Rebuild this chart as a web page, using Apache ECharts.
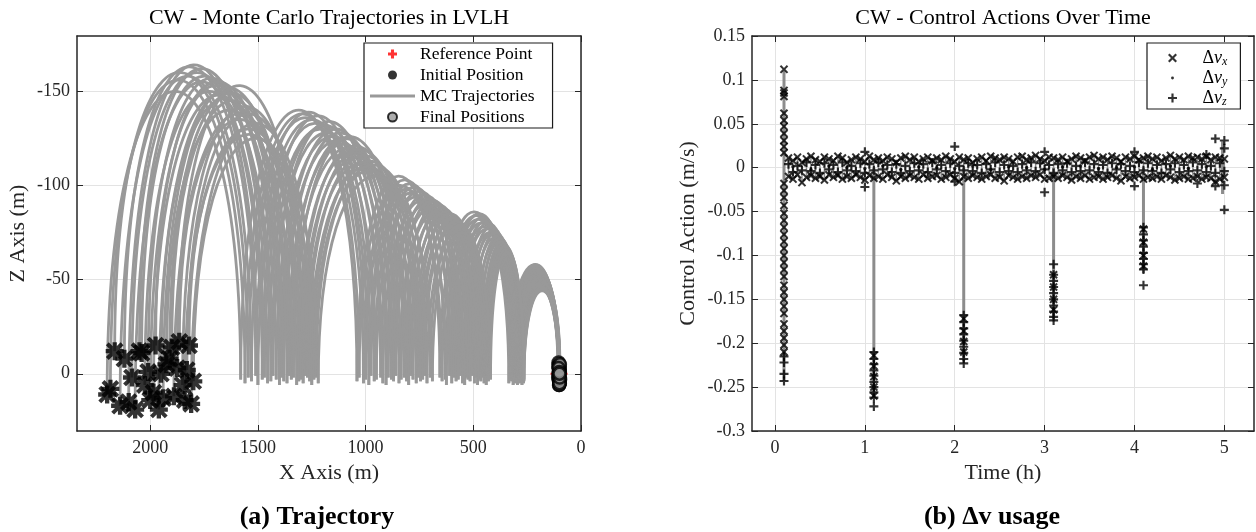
<!DOCTYPE html>
<html><head><meta charset="utf-8">
<script src="https://cdn.jsdelivr.net/npm/echarts@6/dist/echarts.min.js"></script>
<style>html,body{margin:0;padding:0;background:#fff}#c{width:1256px;height:532px}</style>
</head><body><div id="c"></div>
<script>
// ---------- Left panel: trajectories ----------
const startX = [2200,2185,2165,2140,2120,2100,2085,2070,2050,2040,2025,2010,2000,1985,1975,1960,1950,1940,1925,1910,1900,1890,1875,1865,1850,1840,1830,1820,1810,1800];
const startZ = [11,8,-12,17,-8,15,2,19,-12,-11,6,-1,14,10,-15,19,0,13,-5,-8,-14,12,-3,-17,6,14,-2,-15,16,4];
const land1  = [1580,1560,1545,1530,1510,1500,1480,1470,1455,1440,1430,1415,1400,1390,1380,1365,1355,1345,1335,1320,1310,1300,1290,1280,1270,1260,1250,1240,1230,1220];
const land1Z = [3,5,2,4,1,6,3,2,5,4,1,3,6,2,4,5,1,3,2,6,4,3,5,1,2,4,6,3,2,5];
const land2  = [1040,1030,1010,1000,985,975,960,950,930,920,905,895,880,870,860,845,835,820,810,800,790,780,765,755,745,735,725,715,700,690];
const land2Z = [4,2,5,3,6,1,4,3,2,5,6,2,3,4,1,5,3,2,4,6,1,3,5,2,4,3,1,5,2,4];
const land3  = [655,645,630,625,610,600,590,580,570,560,550,540,530,525,515,505,495,490,480,475,465,460,455,450,445,440,435,430,425,420];
const land3Z = [2,4,3,6,1,5,2,4,3,1,5,6,2,3,4,1,5,2,6,3,4,2,1,5,3,6,2,4,1,3];
const land4  = [335,330,325,322,318,315,312,308,305,302,300,297,295,292,290,287,285,282,280,278,276,274,272,270,269,268,267,266,265,265];
const land4Z = [5,3,1,4,2,6,3,5,2,4,1,3,6,2,5,3,4,1,2,5,3,6,2,4,1,3,5,2,4,3];
const finalX = [104,100,106,98,103,101,99,105,102,100,97,104,101,99,103,100,98,102,105,100,101,99,103,98,102,100,104,99,101,100];
const finalZ = [-5,-3,2,5,-1,4,-4,0,6,-2,3,-6,1,5,-3,2,-1,4,-4,0,6,-2,3,-5,1,5,-3,2,-1,0];
const apex1 = [-150,-156,-160,-158,-163,-164,-160,-155,-162,-158,-150,-157,-153,-148,-155,-150,-146,-152,-140,-149,-145,-138,-153,-135,-142,-130,-138,-127,-133,-125];
const apex2 = [-140,-138,-136,-139,-135,-133,-137,-130,-132,-128,-134,-126,-130,-124,-128,-122,-125,-120,-126,-118,-121,-115,-119,-112,-116,-110,-113,-108,-111,-105];
const apex3 = [-105,-100,-103,-98,-101,-96,-99,-94,-97,-92,-95,-90,-93,-88,-92,-86,-90,-85,-88,-83,-86,-82,-85,-80,-83,-78,-81,-76,-79,-75];
const apex4 = [-86,-84,-82,-85,-80,-83,-78,-81,-77,-80,-75,-78,-74,-76,-72,-75,-71,-73,-70,-72,-68,-70,-67,-69,-66,-68,-65,-66,-64,-65];
const apex5 = [-58,-57,-56,-58,-55,-57,-54,-56,-53,-55,-52,-54,-51,-53,-50,-52,-49,-51,-48,-50,-47,-49,-46,-48,-45,-47,-45,-46,-44,-45];
const refX = [102], refZ = [0];
const xTicksL = [0,500,1000,1500,2000];
const zTicksL = [-150,-100,-50,0];

// ---------- Right panel: control actions ----------
const bandT = [0.15,0.2,0.25,0.3,0.35,0.4,0.45,0.5,0.55,0.6,0.65,0.7,0.75,0.8,0.85,0.9,0.95,1,1.05,1.1,1.15,1.2,1.25,1.3,1.35,1.4,1.45,1.5,1.55,1.6,1.65,1.7,1.75,1.8,1.85,1.9,1.95,2,2.05,2.1,2.15,2.2,2.25,2.3,2.35,2.4,2.45,2.5,2.55,2.6,2.65,2.7,2.75,2.8,2.85,2.9,2.95,3,3.05,3.1,3.15,3.2,3.25,3.3,3.35,3.4,3.45,3.5,3.55,3.6,3.65,3.7,3.75,3.8,3.85,3.9,3.95,4,4.05,4.1,4.15,4.2,4.25,4.3,4.35,4.4,4.45,4.5,4.55,4.6,4.65,4.7,4.75,4.8,4.85,4.9,4.95,5];
const xHi = [0.011,0.008,0.012,0.006,0.010,0.013,0.009,0.007,0.012,0.010,
0.008,0.013,0.011,0.006,0.009,0.012,0.010,0.007,0.013,0.009,
0.011,0.008,0.012,0.010,0.006,0.011,0.013,0.009,0.012,0.007,
0.010,0.012,0.008,0.011,0.009,0.013,0.010,0.007,0.012,0.009,
0.011,0.006,0.010,0.012,0.008,0.013,0.011,0.009,0.012,0.010,
0.007,0.012,0.013,0.009,0.011,0.014,0.010,0.008,0.012,0.011,
0.009,0.012,0.007,0.010,0.013,0.011,0.008,0.012,0.014,0.010,
0.012,0.009,0.013,0.011,0.007,0.012,0.010,0.013,0.009,0.011,
0.013,0.010,0.012,0.008,0.011,0.014,0.010,0.012,0.009,0.013,
0.011,0.012,0.010,0.013,0.009,0.012,0.011,0.010];
const xLo = [-0.010,-0.013,-0.008,-0.017,-0.011,-0.009,-0.012,-0.010,-0.014,-0.008,
-0.011,-0.009,-0.013,-0.010,-0.012,-0.008,-0.011,-0.014,-0.009,-0.012,
-0.010,-0.013,-0.008,-0.011,-0.015,-0.010,-0.012,-0.009,-0.011,-0.013,
-0.008,-0.012,-0.010,-0.009,-0.013,-0.011,-0.008,-0.012,-0.016,-0.010,
-0.012,-0.009,-0.011,-0.013,-0.010,-0.008,-0.012,-0.011,-0.015,-0.009,
-0.011,-0.013,-0.010,-0.012,-0.009,-0.011,-0.008,-0.013,-0.012,-0.010,
-0.012,-0.009,-0.011,-0.014,-0.010,-0.012,-0.009,-0.013,-0.011,-0.010,
-0.013,-0.011,-0.009,-0.012,-0.015,-0.010,-0.012,-0.011,-0.009,-0.013,
-0.011,-0.012,-0.010,-0.013,-0.009,-0.011,-0.014,-0.012,-0.010,-0.013,
-0.012,-0.010,-0.013,-0.011,-0.012,-0.016,-0.013,-0.011];
const zMid = [0.004,-0.005,0.002,-0.003,0.006,-0.004,0.003,-0.006,0.005,-0.002,
0.003,-0.005,0.006,-0.003,0.002,-0.004,0.005,-0.006,0.004,-0.003,
0.006,-0.002,0.003,-0.005,0.004,-0.006,0.002,-0.004,0.005,-0.003,
0.004,-0.005,0.006,-0.002,0.003,-0.004,0.005,-0.006,0.002,-0.003,
0.005,-0.004,0.003,-0.006,0.004,-0.002,0.006,-0.005,0.003,-0.004,
0.002,-0.005,0.004,-0.003,0.006,-0.004,0.005,-0.002,0.003,-0.006,
0.004,-0.003,0.005,-0.005,0.002,-0.004,0.006,-0.003,0.004,-0.005,
0.003,-0.006,0.005,-0.002,0.004,-0.004,0.002,-0.005,0.006,-0.003,
0.005,-0.004,0.003,-0.006,0.004,-0.002,0.005,-0.005,0.003,-0.004,
0.006,-0.003,0.004,-0.005,0.002,-0.006,0.005,-0.004];
const zOutT = [1.0,1.0,2.0,2.0,3.0,3.0,4.0,4.0,4.7,4.8,4.9,5.0,5.0,4.9,5.0,5.0];
const zOutV = [0.018,-0.022,0.024,-0.016,0.018,-0.028,0.018,-0.021,-0.018,0.015,0.033,0.031,-0.048,-0.021,0.022,-0.02];
const yTimes = [0.2,0.4,0.6,0.8,1.0,1.2,1.4,1.6,1.8,2.0,2.2,2.4,2.6,2.8,3.0,3.2,3.4,3.6,3.8,4.0,4.2,4.4,4.6,4.8];
const yVals = [0.001,-0.002,0.002,0,-0.001,0.002,-0.002,0.001,0,-0.001,0.002,-0.002,0.001,0,-0.002,0.001,0.002,-0.001,0,0.001,-0.002,0.002,-0.001,0.001];
const spikeT = [0.1,1.1,2.1,3.1,4.1];
const spikeXVals = [
  [0.112,0.088,0.085,0.081,0.062,0.054,0.047,0.039,0.031,0.024,0.017,-0.018,-0.026,-0.034,-0.043,-0.052,-0.06,-0.068,-0.076,-0.084,-0.092,-0.1,-0.108,-0.116,-0.124,-0.134,-0.142,-0.15,-0.158,-0.166,-0.178,-0.186,-0.194,-0.202,-0.21],
  [-0.214,-0.226,-0.238,-0.25,-0.26],
  [-0.172,-0.186,-0.198,-0.21],
  [-0.122,-0.136,-0.15,-0.162],
  [-0.07,-0.085,-0.1,-0.112]
];
const spikeZVals = [
  [-0.215,-0.222,-0.235,-0.243],
  [-0.21,-0.218,-0.224,-0.231,-0.237,-0.244,-0.25,-0.256,-0.262,-0.272],
  [-0.168,-0.176,-0.183,-0.19,-0.197,-0.204,-0.211,-0.218,-0.223],
  [-0.11,-0.122,-0.129,-0.136,-0.143,-0.15,-0.157,-0.164,-0.17,-0.174],
  [-0.068,-0.076,-0.083,-0.09,-0.097,-0.104,-0.11,-0.116,-0.134]
];
const stemT = [0.1,1.1,2.1,3.1,4.1,4.98];
const stemTop = [0.11,0,0,0,0,0.03];
const stemBottom = [-0.243,-0.262,-0.22,-0.172,-0.12,-0.03];
const tTicksR = [0,1,2,3,4,5];

// ---------- build ----------
const FONT = 'Liberation Serif';
const AX = '#262626';
const trajHops = [];
for (let i = 0; i < startX.length; i++) {
  const xs = [startX[i], land1[i], land2[i], land3[i], land4[i], finalX[i]];
  const zs = [startZ[i], land1Z[i], land2Z[i], land3Z[i], land4Z[i], finalZ[i]];
  const ap = [apex1[i], apex2[i], apex3[i], apex4[i], apex5[i]];
  for (let h = 0; h < 5; h++) trajHops.push([xs[h], zs[h], xs[h + 1], zs[h + 1], ap[h]]);
}
const initData = startX.map((x, i) => [x, startZ[i]]);
const finalData = finalX.map((x, i) => [x, finalZ[i]]);
const refData = refX.map((x, i) => [x, refZ[i]]);

const dvxData = [];
const zigData = [];
bandT.forEach((t, i) => {
  dvxData.push([t, xHi[i]]); dvxData.push([t, xLo[i]]);
  if (i % 2) { zigData.push([t, xLo[i]]); zigData.push([t, xHi[i]]); }
  else { zigData.push([t, xHi[i]]); zigData.push([t, xLo[i]]); }
});
spikeT.forEach((t, k) => spikeXVals[k].forEach(v => dvxData.push([t, v])));
const dvzData = bandT.map((t, i) => [t, zMid[i]]);
zOutT.forEach((t, i) => dvzData.push([t, zOutV[i]]));
spikeT.forEach((t, k) => spikeZVals[k].forEach(v => dvzData.push([t, v])));
const dvyData = yTimes.map((t, i) => [t, yVals[i]]);
const stemData = stemT.map((t, i) => [t, stemTop[i], stemBottom[i]]);

const X_PATH = 'path://M0,1.7L1.7,0L5,3.3L8.3,0L10,1.7L6.7,5L10,8.3L8.3,10L5,6.7L1.7,10L0,8.3L3.3,5Z';
const PLUS_PATH = 'path://M3.8,0H6.2V3.8H10V6.2H6.2V10H3.8V6.2H0V3.8H3.8Z';
const PLUS_THICK = 'path://M3.3,0H6.7V3.3H10V6.7H6.7V10H3.3V6.7H0V3.3H3.3Z';
const REF_PATH = 'path://M7.1,0H8.9V16H7.1Z M0,7.1H16V8.9H0Z';
const AST_PATH = 'path://M3.8,0H6.2V10H3.8Z M0,3.8H10V6.2H0Z M1.7,0.1L9.9,8.3L8.3,9.9L0.1,1.7Z M8.3,0.1L9.9,1.7L1.7,9.9L0.1,8.3Z';
const DOT_ICON = 'path://M0,0L0.01,0L0,0.01Z M10,10L9.99,10L10,9.99Z M3.4,5A1.6,1.6 0 1,0 6.6,5A1.6,1.6 0 1,0 3.4,5Z';
const LINE_ICON = 'path://M0,0H45V3H0Z';

const tickFont = {fontFamily: FONT, fontSize: 18, color: AX};
const nameFont = {fontFamily: FONT, fontSize: 22, color: AX};
function mkX(grid, min, max, inverse, ticks, name, pos) {
  const main = pos === 'bottom';
  return {
    gridIndex: grid, type: 'value', min, max, inverse, position: pos,
    axisLine: {show: true, onZero: false, lineStyle: {color: AX, width: 1.5}},
    axisTick: {show: true, inside: true, length: 6, customValues: ticks, lineStyle: {color: AX, width: 1}},
    axisLabel: {show: main, customValues: ticks, margin: 8, formatter: v => String(v), ...tickFont},
    splitLine: {show: main, lineStyle: {color: '#e3e3e3', width: 1}},
    name: main ? name : '', nameLocation: 'middle', nameGap: 30, nameTextStyle: nameFont
  };
}
function mkY(grid, min, max, inverse, ticks, interval, name, pos, gap) {
  const main = pos === 'left';
  const o = {
    gridIndex: grid, type: 'value', min, max, inverse, position: pos,
    axisLine: {show: true, onZero: false, lineStyle: {color: AX, width: 1.5}},
    axisTick: {show: true, inside: true, length: 6, lineStyle: {color: AX, width: 1}},
    axisLabel: {show: main, margin: 7, formatter: v => String(Math.round(v * 100) / 100), ...tickFont},
    splitLine: {show: main, lineStyle: {color: '#e3e3e3', width: 1}},
    name: main ? name : '', nameLocation: 'middle', nameGap: gap, nameTextStyle: nameFont
  };
  if (ticks) { o.axisTick.customValues = ticks; o.axisLabel.customValues = ticks; }
  if (interval) o.interval = interval;
  return o;
}

const option = {
  animation: false,
  backgroundColor: '#fff',
  title: [
    {text: 'CW - Monte Carlo Trajectories in LVLH', left: 329, top: 7, textAlign: 'center', padding: 0,
     textStyle: {fontFamily: FONT, fontSize: 22, fontWeight: 'normal', color: '#000'}},
    {text: 'CW - Control Actions Over Time', left: 1003, top: 7, textAlign: 'center', padding: 0,
     textStyle: {fontFamily: FONT, fontSize: 22, fontWeight: 'normal', color: '#000'}},
    {text: '(a) Trajectory', left: 317, top: 504, textAlign: 'center', padding: 0,
     textStyle: {fontFamily: FONT, fontSize: 26, fontWeight: 'bold', color: '#000'}},
    {text: '(b) Δv usage', left: 992, top: 504, textAlign: 'center', padding: 0,
     textStyle: {fontFamily: FONT, fontSize: 26, fontWeight: 'bold', color: '#000'}}
  ],
  grid: [
    {left: 77, top: 36, width: 504, height: 395},
    {left: 752, top: 36, width: 502, height: 395}
  ],
  xAxis: [
    mkX(0, 0, 2340, true, xTicksL, 'X Axis (m)', 'bottom'),
    mkX(0, 0, 2340, true, xTicksL, '', 'top'),
    mkX(1, -0.256, 5.33, false, tTicksR, 'Time (h)', 'bottom'),
    mkX(1, -0.256, 5.33, false, tTicksR, '', 'top')
  ],
  yAxis: [
    mkY(0, -179.4, 30.4, true, zTicksL, null, 'Z Axis (m)', 'left', 48),
    mkY(0, -179.4, 30.4, true, zTicksL, null, '', 'right', 48),
    mkY(1, -0.3, 0.15, false, null, 0.05, 'Control Action (m/s)', 'left', 53),
    mkY(1, -0.3, 0.15, false, null, 0.05, '', 'right', 53)
  ],
  legend: [
    {left: 364, top: 43, orient: 'vertical', padding: [2, 18, 2, 6], itemGap: 3, itemWidth: 45, itemHeight: 9,
     backgroundColor: '#fff', borderColor: '#1a1a1a', borderWidth: 1.2, selectedMode: false,
     textStyle: {fontFamily: FONT, fontSize: 17.5, color: '#000', lineHeight: 18},
     data: [
       {name: 'Reference Point', icon: PLUS_THICK},
       {name: 'Initial Position', icon: 'circle'},
       {name: 'MC Trajectories', icon: LINE_ICON},
       {name: 'Final Positions', icon: 'circle'}
     ]},
    {left: 1147, top: 43, orient: 'vertical', padding: [6, 13, 1, 21], itemGap: 1, itemWidth: 50, itemHeight: 9,
     backgroundColor: '#fff', borderColor: '#1a1a1a', borderWidth: 1.2, selectedMode: false,
     formatter: n => '{d|Δ}{v|v}{s|' + n.slice(-1) + '}',
     textStyle: {fontFamily: FONT, fontSize: 18, color: '#000',
       rich: {d: {fontFamily: FONT, fontSize: 18, lineHeight: 20},
              v: {fontFamily: FONT, fontSize: 18, fontStyle: 'italic', lineHeight: 20},
              s: {fontFamily: FONT, fontSize: 12, fontStyle: 'italic', lineHeight: 11, verticalAlign: 'bottom'}}},
     data: [
       {name: 'Δvx', icon: X_PATH},
       {name: 'Δvy', icon: DOT_ICON},
       {name: 'Δvz', icon: PLUS_PATH}
     ]}
  ],
  series: [
    {name: 'Reference Point', type: 'scatter', xAxisIndex: 0, yAxisIndex: 0, data: refData,
     symbol: REF_PATH, symbolSize: 17, itemStyle: {color: '#ff0000'}, z: 2},
    {name: 'MC Trajectories', type: 'custom', xAxisIndex: 0, yAxisIndex: 0, data: trajHops,
     encode: {x: [0, 2], y: [1, 3]}, itemStyle: {color: '#999999'}, z: 3,
     renderItem: (params, api) => {
       const x0 = api.value(0), z0 = api.value(1), x1 = api.value(2), z1 = api.value(3), za = api.value(4);
       const c = (8 * za - z0 - z1) / 6;
       const p0 = api.coord([x0, z0]), p1 = api.coord([x1, z1]);
       const q0 = api.coord([x0, c]), q1 = api.coord([x1, c]);
       return {type: 'bezierCurve',
         shape: {x1: p0[0], y1: p0[1], x2: p1[0], y2: p1[1], cpx1: q0[0], cpy1: q0[1], cpx2: q1[0], cpy2: q1[1]},
         style: {stroke: '#999999', lineWidth: 2.8, fill: null}};
     }},
    {name: 'Initial Position', type: 'scatter', xAxisIndex: 0, yAxisIndex: 0, data: initData,
     symbol: AST_PATH, symbolSize: 18, itemStyle: {color: '#000'}, z: 4},
    {name: 'Final Positions', type: 'scatter', xAxisIndex: 0, yAxisIndex: 0, data: finalData,
     symbol: 'circle', symbolSize: 12, itemStyle: {color: '#999999', borderColor: '#000', borderWidth: 2.5}, z: 5},

    {name: 'stems', type: 'custom', xAxisIndex: 2, yAxisIndex: 2, data: stemData, z: 2,
     encode: {x: 0, y: [1, 2]},
     renderItem: (params, api) => {
       const a = api.coord([api.value(0), api.value(1)]), b = api.coord([api.value(0), api.value(2)]);
       return {type: 'line', shape: {x1: a[0], y1: a[1], x2: b[0], y2: b[1]},
         style: {stroke: '#8c8c8c', lineWidth: 3}};
     }},
    {name: 'band', type: 'line', xAxisIndex: 2, yAxisIndex: 2, data: zigData, z: 2,
     showSymbol: false, symbol: 'none', lineStyle: {color: '#8c8c8c', width: 1.5}, silent: true},
    {name: 'Δvx', type: 'scatter', xAxisIndex: 2, yAxisIndex: 2, data: dvxData,
     symbol: X_PATH, symbolSize: 8.5, itemStyle: {color: '#000'}, z: 4},
    {name: 'Δvy', type: 'scatter', xAxisIndex: 2, yAxisIndex: 2, data: dvyData,
     symbol: 'circle', symbolSize: 3.5, itemStyle: {color: '#000'}, z: 4},
    {name: 'Δvz', type: 'scatter', xAxisIndex: 2, yAxisIndex: 2, data: dvzData,
     symbol: PLUS_PATH, symbolSize: 9, itemStyle: {color: '#000'}, z: 4}
  ]
};
const chart = echarts.init(document.getElementById('c'), null, {renderer: 'canvas'});
chart.setOption(option);
</script></body></html>
